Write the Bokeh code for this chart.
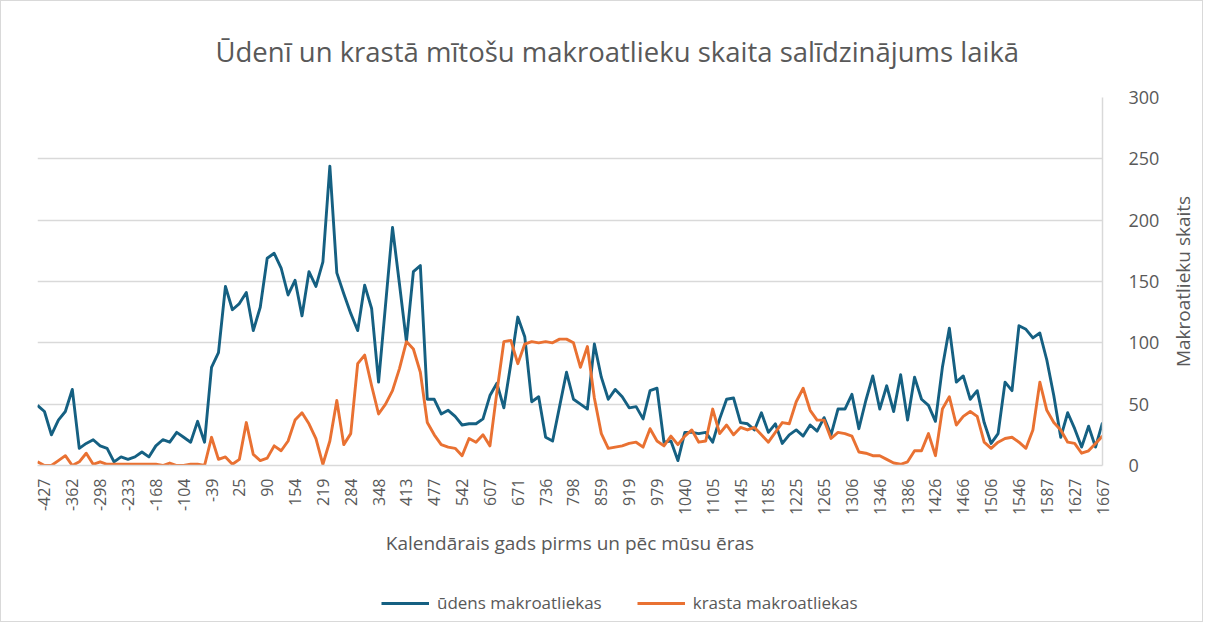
import math
from bokeh.plotting import figure
from bokeh.layouts import column, row
from bokeh.models import Range1d, FixedTicker, Legend, LegendItem
from bokeh.embed import file_html
from bokeh.resources import INLINE

title_text = "Ūdenī un krastā mītošu makroatlieku skaita salīdzinājums laikā"
x_title = "Kalendārais gads pirms un pēc mūsu ēras"
y_title = "Makroatlieku skaits"
series_names = ["ūdens makroatliekas", "krasta makroatliekas"]

year_labels = [-427, -362, -298, -233, -168, -104, -39, 25, 90, 154, 219, 284, 348,
               413, 477, 542, 607, 671, 736, 798, 859, 919, 979, 1040, 1105, 1145,
               1185, 1225, 1265, 1306, 1346, 1386, 1426, 1466, 1506, 1546, 1587,
               1627, 1667]
label_first = 1
label_step = 4

water = [
    49, 44, 25, 37, 44, 62, 14, 18, 21, 16,
    14, 3, 7, 5, 7, 11, 7, 16, 21, 19,
    27, 23, 19, 36, 19, 80, 92, 146, 127, 132,
    141, 110, 129, 169, 173, 161, 139, 151, 122, 158,
    146, 166, 244, 157, 140, 124, 110, 147, 128, 68,
    131, 194, 148, 101, 158, 163, 54, 54, 42, 45,
    40, 33, 34, 34, 38, 57, 67, 47, 83, 121,
    105, 52, 56, 23, 20, 48, 76, 54, 50, 46,
    99, 72, 54, 62, 56, 47, 48, 38, 61, 63,
    19, 20, 4, 27, 27, 26, 27, 19, 38, 54,
    55, 35, 34, 29, 43, 27, 34, 18, 25, 29,
    24, 33, 28, 39, 25, 46, 46, 58, 30, 53,
    73, 46, 65, 44, 74, 37, 72, 54, 49, 36,
    80, 112, 68, 73, 54, 61, 35, 18, 26, 68,
    61, 114, 111, 104, 108, 86, 57, 23, 43, 30,
    15, 32, 15, 35]

shore = [
    3, 0, 0, 4, 8, 0, 3, 10, 1, 3,
    1, 1, 1, 1, 1, 1, 1, 1, 0, 2,
    0, 0, 1, 1, 0, 23, 5, 7, 1, 5,
    35, 9, 4, 6, 16, 12, 20, 37, 43, 34,
    22, 1, 20, 53, 17, 26, 83, 90, 65, 42,
    50, 61, 79, 101, 95, 76, 35, 25, 17, 15,
    14, 8, 22, 19, 25, 16, 60, 101, 102, 83,
    99, 101, 100, 101, 100, 103, 103, 100, 80, 97,
    55, 26, 14, 15, 16, 18, 19, 15, 30, 20,
    16, 24, 17, 24, 29, 19, 20, 46, 26, 33,
    25, 31, 29, 31, 25, 19, 27, 35, 34, 52,
    63, 45, 37, 37, 22, 27, 26, 24, 11, 10,
    8, 8, 5, 2, 1, 3, 12, 12, 26, 8,
    46, 56, 33, 40, 44, 40, 19, 14, 19, 22,
    23, 19, 14, 29, 68, 45, 35, 29, 19, 18,
    10, 12, 18, 24]

y_ticks = [0, 50, 100, 150, 200, 250, 300]

FONT = "Open Sans"
TXT = "#595959"
GRID = "#d9d9d9"
BLUE = "#156082"
ORANGE = "#E97132"
LW = 2.9

n = len(water)
xs = list(range(n))
tick_pos = [label_first + label_step * k for k in range(len(year_labels))]

W = 1201
P_W = 1161
H_MAIN = 570
H_LEG = 50
B_TOP = 96
B_BOT = H_MAIN - 464

p = figure(width=P_W, height=H_MAIN, output_backend="svg", toolbar_location=None,
           x_range=Range1d(0, n - 1), y_range=Range1d(y_ticks[0], y_ticks[-1]),
           y_axis_location="right",
           min_border_left=36, min_border_right=P_W - 1105, min_border_top=B_TOP,
           min_border_bottom=B_BOT)
p.outline_line_color = None
p.background_fill_color = "white"
p.border_fill_color = "white"

p.line(xs, water, line_color=BLUE, line_width=LW, line_join="round")
p.line(xs, shore, line_color=ORANGE, line_width=LW, line_join="round")

# title
p.title.text = title_text
p.title.align = "left"
p.title.offset = 178
p.title.text_font = FONT
p.title.text_font_size = "27.5px"
p.title.text_font_style = "normal"
p.title.text_color = TXT
p.title.standoff = 56

# x axis
xa = p.xaxis[0]
xa.ticker = FixedTicker(ticks=tick_pos)
xa.major_label_overrides = {t: str(v) for t, v in zip(tick_pos, year_labels)}
xa.major_label_orientation = math.pi / 2
xa.major_label_text_font = FONT
xa.major_label_text_font_size = "16px"
xa.major_label_text_color = TXT
xa.major_label_standoff = 7
xa.major_tick_line_color = None
xa.minor_tick_line_color = None
xa.axis_line_color = GRID
xa.axis_line_width = 1.5
xa.axis_label = x_title
xa.axis_label_standoff = 12
xa.axis_label_text_font = FONT
xa.axis_label_text_font_size = "19px"
xa.axis_label_text_font_style = "normal"
xa.axis_label_text_color = TXT

# y axis (right)
ya = p.yaxis[0]
ya.ticker = FixedTicker(ticks=y_ticks)
ya.major_label_text_font = FONT
ya.major_label_text_font_size = "18px"
ya.major_label_text_color = TXT
ya.major_label_standoff = 20
ya.major_tick_line_color = None
ya.minor_tick_line_color = None
ya.axis_line_color = GRID
ya.axis_line_width = 1.5

p.xgrid.visible = False
p.ygrid.ticker = FixedTicker(ticks=y_ticks)
p.ygrid.grid_line_color = GRID
p.ygrid.grid_line_width = 1.5

# y axis title strip (title on the left side reads bottom-to-top)
r = figure(width=W - P_W, height=H_MAIN, output_backend="svg", toolbar_location=None,
           x_axis_location=None, y_axis_location=None, title=y_title,
           title_location="left", x_range=Range1d(0, 1), y_range=Range1d(0, 1),
           min_border_left=0, min_border_right=0, min_border_top=B_TOP,
           min_border_bottom=B_BOT)
r.outline_line_color = None
r.xgrid.visible = False
r.ygrid.visible = False
r.title.align = "center"
r.title.vertical_align = "middle"
r.title.standoff = 12
r.title.text_font = FONT
r.title.text_font_size = "19px"
r.title.text_font_style = "normal"
r.title.text_color = TXT

# legend strip (series drawn out of view so that only the legend shows)
q = figure(width=W, height=H_LEG, output_backend="svg", toolbar_location=None,
           x_axis_location=None, y_axis_location=None,
           x_range=Range1d(0, n - 1), y_range=Range1d(-2, -1),
           min_border_left=36, min_border_right=W - 1105, min_border_top=0,
           min_border_bottom=0)
q.outline_line_color = None
q.xgrid.visible = False
q.ygrid.visible = False
lr1 = q.line(xs, water, line_color=BLUE, line_width=LW)
lr2 = q.line(xs, shore, line_color=ORANGE, line_width=LW)
legend = Legend(items=[LegendItem(label=series_names[0], renderers=[lr1]),
                       LegendItem(label=series_names[1], renderers=[lr2])],
                orientation="horizontal", location=(344, 7),
                border_line_color=None, background_fill_alpha=0,
                label_text_font=FONT, label_text_font_size="17px",
                label_text_color=TXT, glyph_width=48, glyph_height=20,
                label_height=20, label_standoff=8, spacing=35, padding=0, margin=0)
q.add_layout(legend, "center")

layout = column(row(p, r, spacing=0), q, spacing=0,
                styles={"border": "1px solid #d9d9d9"})

open("out.html", "w").write(file_html(layout, INLINE))
